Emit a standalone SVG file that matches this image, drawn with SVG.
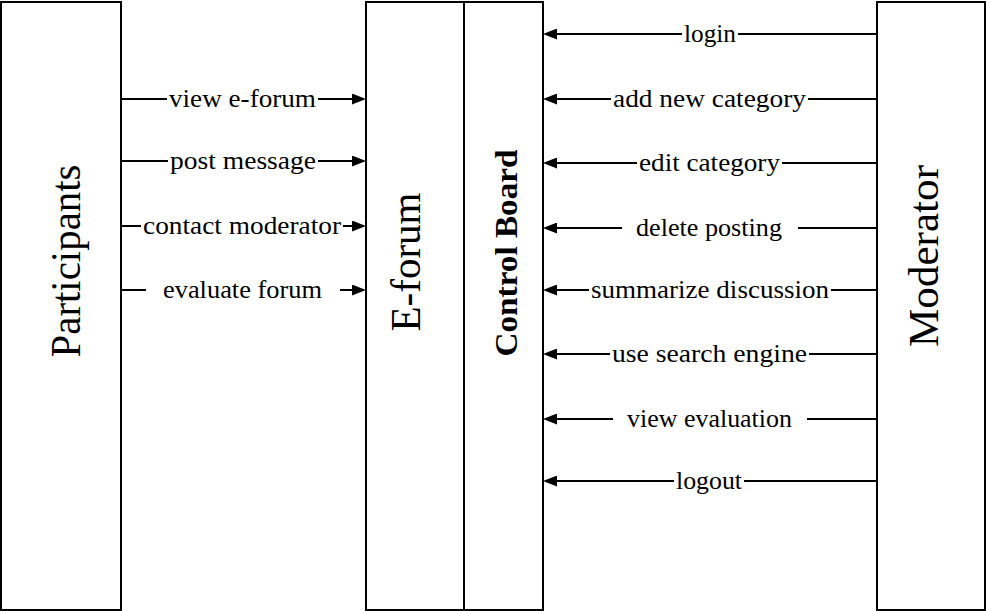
<svg xmlns="http://www.w3.org/2000/svg" width="986" height="611" viewBox="0 0 986 611">
<style>
.box{fill:#fff;stroke:#000;stroke-width:2}
.ln{stroke:#000;stroke-width:2;fill:none}
.lbl{font-family:"Liberation Serif","Times New Roman",serif;font-size:25px;fill:#000;text-anchor:middle}
.big{font-family:"Liberation Serif","Times New Roman",serif;font-size:42px;fill:#000;text-anchor:middle}
.bold{font-family:"Liberation Serif","Times New Roman",serif;font-size:32px;font-weight:bold;fill:#000;text-anchor:middle}
</style>
<defs>
<marker id="ah" markerUnits="userSpaceOnUse" markerWidth="14" markerHeight="11" refX="6" refY="5.5" orient="auto">
<path d="M0,0 L14,5.5 L0,11 z" fill="#000"/>
</marker>
</defs>
<rect width="986" height="611" fill="#fff"/>
<g id="participants">
<rect class="box" x="1" y="2" width="120" height="608"/>
<text class="big" transform="translate(80,261) rotate(-90)" textLength="193" lengthAdjust="spacingAndGlyphs">Participants</text>
</g>
<g id="eforum">
<rect class="box" x="366" y="2" width="98" height="608"/>
<text class="big" transform="translate(420,262) rotate(-90)" textLength="139" lengthAdjust="spacingAndGlyphs">E-forum</text>
</g>
<g id="controlboard">
<rect class="box" x="464" y="2" width="79" height="608"/>
<text class="bold" transform="translate(517,253) rotate(-90)" textLength="207" lengthAdjust="spacingAndGlyphs">Control Board</text>
</g>
<g id="moderator">
<rect class="box" x="877" y="2" width="108" height="608"/>
<text class="big" transform="translate(938,256) rotate(-90)" textLength="182" lengthAdjust="spacingAndGlyphs">Moderator</text>
</g>
<g id="connectors">
<path class="ln" d="M121,99 H167 M318,99 H358" marker-end="url(#ah)"/>
<text class="lbl" x="242.5" y="107" textLength="147" lengthAdjust="spacingAndGlyphs">view e-forum</text>
<path class="ln" d="M121,161 H168 M318,161 H358" marker-end="url(#ah)"/>
<text class="lbl" x="243" y="169" textLength="146" lengthAdjust="spacingAndGlyphs">post message</text>
<path class="ln" d="M121,226 H141 M343,226 H358" marker-end="url(#ah)"/>
<text class="lbl" x="242" y="234" textLength="198" lengthAdjust="spacingAndGlyphs">contact moderator</text>
<path class="ln" d="M121,290 H146 M340,290 H358" marker-end="url(#ah)"/>
<text class="lbl" x="242.5" y="298" textLength="159" lengthAdjust="spacingAndGlyphs">evaluate forum</text>

<path class="ln" d="M877,34 H738 M682,34 H551" marker-end="url(#ah)"/>
<text class="lbl" x="710" y="42" textLength="52" lengthAdjust="spacingAndGlyphs">login</text>
<path class="ln" d="M877,99 H808 M611,99 H551" marker-end="url(#ah)"/>
<text class="lbl" x="709.5" y="107" textLength="193" lengthAdjust="spacingAndGlyphs">add new category</text>
<path class="ln" d="M877,163 H782 M637,163 H551" marker-end="url(#ah)"/>
<text class="lbl" x="709.5" y="171" textLength="141" lengthAdjust="spacingAndGlyphs">edit category</text>
<path class="ln" d="M877,228 H798 M622,228 H551" marker-end="url(#ah)"/>
<text class="lbl" x="709" y="236" textLength="146" lengthAdjust="spacingAndGlyphs">delete posting</text>
<path class="ln" d="M877,290 H831 M589,290 H551" marker-end="url(#ah)"/>
<text class="lbl" x="710" y="298" textLength="238" lengthAdjust="spacingAndGlyphs">summarize discussion</text>
<path class="ln" d="M877,354 H809 M610,354 H551" marker-end="url(#ah)"/>
<text class="lbl" x="709.5" y="362" textLength="195" lengthAdjust="spacingAndGlyphs">use search engine</text>
<path class="ln" d="M877,419 H807 M613,419 H551" marker-end="url(#ah)"/>
<text class="lbl" x="709.5" y="427" textLength="165" lengthAdjust="spacingAndGlyphs">view evaluation</text>
<path class="ln" d="M877,481 H744 M674,481 H551" marker-end="url(#ah)"/>
<text class="lbl" x="709" y="489" textLength="66" lengthAdjust="spacingAndGlyphs">logout</text>
</g>
</svg>
